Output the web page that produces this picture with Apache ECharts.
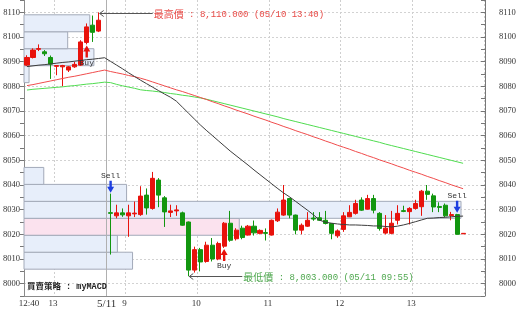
<!DOCTYPE html>
<html><head><meta charset="utf-8">
<script src="https://cdn.jsdelivr.net/npm/echarts/dist/echarts.min.js"></script>
<style>html,body{margin:0;padding:0;background:#fff}#c{width:520px;height:310px}</style>
</head><body><div id="c"></div><script>
// ---- data ----
const times = [
 "05/10 12:40","05/10 12:45","05/10 12:50","05/10 12:55","05/10 13:00","05/10 13:05","05/10 13:10","05/10 13:15","05/10 13:20","05/10 13:25","05/10 13:30","05/10 13:35","05/10 13:40",
 "05/11 08:45","05/11 08:50","05/11 08:55","05/11 09:00","05/11 09:05","05/11 09:10","05/11 09:15","05/11 09:20","05/11 09:25","05/11 09:30","05/11 09:35","05/11 09:40","05/11 09:45","05/11 09:50","05/11 09:55",
 "05/11 10:00","05/11 10:05","05/11 10:10","05/11 10:15","05/11 10:20","05/11 10:25","05/11 10:30","05/11 10:35","05/11 10:40","05/11 10:45","05/11 10:50","05/11 10:55",
 "05/11 11:00","05/11 11:05","05/11 11:10","05/11 11:15","05/11 11:20","05/11 11:25","05/11 11:30","05/11 11:35","05/11 11:40","05/11 11:45","05/11 11:50","05/11 11:55",
 "05/11 12:00","05/11 12:05","05/11 12:10","05/11 12:15","05/11 12:20","05/11 12:25","05/11 12:30","05/11 12:35","05/11 12:40","05/11 12:45","05/11 12:50","05/11 12:55",
 "05/11 13:00","05/11 13:05","05/11 13:10","05/11 13:15","05/11 13:20","05/11 13:25","05/11 13:30","05/11 13:35","05/11 13:40","05/11 13:45"
];
const opens = [8088.6,8091.7,8095.0,8094.0,8091.7,8088.1,8087.9,8086.6,8087.9,8088.6,8097.8,8104.8,8102.4,null,
 8028.8,8027.5,8028.7,8027.5,8028.3,8028.0,8035.9,8030.5,8042.0,8034.8,8028.9,8029.5,8028.7,8025.0,
 8005.5,8013.8,8009.0,8015.6,8010.0,8015.2,8024.5,8018.2,8022.5,8019.7,8023.3,8020.4,
 8020.7,8019.7,8025.5,8027.8,8034.5,8027.8,8021.7,8023.3,8026.6,8026.7,8025.7,8024.4,
 8019.4,8022.0,8027.1,8028.5,8033.9,8030.2,8034.5,8028.5,8020.5,8020.4,8025.7,8029.6,
 8029.2,8030.5,8031.2,8037.5,8035.6,8031.3,8031.8,8027.6,8028.0,8020.2];
const closes = [8091.7,8094.7,8095.3,8093.2,8089.0,8088.4,8088.4,8087.9,8088.9,8098.0,8104.1,8101.9,8106.8,null,
 8028.5,8028.7,8027.9,8028.7,8028.6,8035.5,8030.7,8042.7,8035.9,8029.1,8029.5,8029.9,8023.7,8005.5,
 8013.8,8008.8,8015.6,8010.0,8016.3,8024.5,8017.6,8021.7,8018.7,8023.3,8020.6,8021.6,
 8020.4,8025.7,8029.0,8033.9,8027.8,8021.7,8023.7,8025.7,8026.2,8025.7,8024.4,8020.4,
 8021.4,8027.5,8028.9,8032.5,8029.8,8034.5,8029.8,8022.4,8022.5,8024.5,8028.5,8029.3,
 8030.5,8032.5,8037.5,8036.2,8031.1,8030.9,8027.5,8028.0,8020.0,8020.4];
const lows = [8088.2,8091.3,8094.3,8092.3,8083.0,8084.5,8080.0,8085.8,8087.5,8088.3,8097.0,8098.0,8102.0,null,
 8011.8,8026.5,8027.1,8019.0,8027.0,8027.5,8028.0,8030.0,8031.0,8023.0,8027.0,8027.5,8023.5,8003.0,
 8004.5,8005.0,8008.5,8009.0,8009.5,8014.5,8017.0,8017.5,8018.0,8019.5,8019.5,8020.0,
 8017.5,8019.5,8025.0,8027.5,8026.5,8020.0,8020.0,8023.0,8025.5,8025.5,8024.0,8018.0,
 8018.6,8021.0,8027.0,8028.0,8029.5,8030.0,8028.5,8021.5,8020.0,8020.0,8024.0,8029.0,
 8024.0,8030.0,8027.5,8034.0,8029.0,8029.0,8027.0,8025.7,8020.0,8020.2];
const highs = [8092.6,8095.4,8097.0,8094.7,8092.5,8088.6,8088.7,8088.2,8090.0,8098.7,8105.5,8108.7,8110.0,null,
 8036.5,8032.0,8030.5,8032.0,8033.3,8039.5,8038.6,8045.3,8042.8,8035.5,8032.0,8031.8,8029.2,8025.2,
 8015.0,8014.5,8017.0,8018.5,8017.0,8025.0,8029.5,8022.5,8023.5,8023.8,8025.6,8022.0,
 8022.4,8026.0,8030.5,8040.0,8034.8,8028.0,8024.4,8029.0,8029.0,8029.0,8029.5,8024.6,
 8022.0,8029.0,8031.8,8034.0,8035.0,8036.0,8036.0,8029.0,8027.8,8029.5,8031.8,8031.6,
 8031.0,8034.0,8038.0,8040.0,8036.5,8033.0,8032.5,8029.1,8028.3,8020.4];
const maBlack = [8088.0,8088.3,8088.6,8088.8,8089.1,8089.4,8089.7,8089.9,8090.2,8090.5,8090.8,8091.0,8091.3,8091.6,
 8090.1,8088.6,8087.1,8085.5,8084.0,8082.5,8081.1,8079.7,8078.3,8076.9,8075.6,8074.0,8071.6,8069.2,
 8066.8,8064.4,8062.2,8060.1,8058.0,8055.9,8053.8,8051.9,8050.0,8048.1,8046.1,8044.2,
 8042.3,8040.4,8038.5,8036.7,8035.1,8033.3,8031.5,8029.7,8027.8,8025.7,8024.9,8024.5,
 8024.2,8024.0,8023.8,8023.8,8023.7,8023.6,8023.4,8023.4,8023.2,8023.0,8023.3,8023.8,
 8024.4,8025.1,8025.8,8026.5,8026.6,8026.8,8026.9,8027.1,8027.3,8027.4];
const maRed = [8080.3,8080.7,8081.2,8081.7,8082.2,8082.7,8083.2,8083.7,8084.1,8084.6,8085.1,8085.6,8086.1,8086.6,
 8086.0,8085.5,8085.0,8084.4,8083.9,8083.3,8082.6,8081.8,8081.0,8080.2,8079.4,8078.6,8077.9,8077.1,
 8076.3,8075.5,8074.7,8073.8,8073.0,8072.1,8071.3,8070.4,8069.6,8068.8,8067.9,8067.1,
 8066.3,8065.4,8064.6,8063.7,8062.9,8062.0,8061.2,8060.4,8059.5,8058.7,8057.8,8057.0,
 8056.1,8055.3,8054.5,8053.6,8052.8,8051.9,8051.1,8050.2,8049.4,8048.6,8047.7,8046.9,
 8046.0,8045.2,8044.4,8043.5,8042.7,8041.8,8041.0,8040.1,8039.3,8038.5];
const maGreen = [8078.5,8078.8,8079.0,8079.2,8079.4,8079.6,8079.8,8080.1,8080.3,8080.6,8080.9,8081.1,8081.4,8081.7,
 8081.5,8080.8,8080.2,8079.7,8079.2,8078.6,8078.3,8078.1,8077.8,8077.5,8077.1,8076.8,8076.4,8076.1,
 8075.7,8075.3,8074.8,8074.2,8073.6,8073.0,8072.4,8071.8,8071.2,8070.6,8070.0,8069.4,
 8068.8,8068.2,8067.6,8066.9,8066.3,8065.7,8065.1,8064.5,8063.9,8063.3,8062.7,8062.1,
 8061.5,8060.9,8060.3,8059.7,8059.1,8058.5,8057.9,8057.3,8056.6,8056.0,8055.4,8054.8,
 8054.2,8053.6,8053.0,8052.4,8051.8,8051.2,8050.6,8050.0,8049.4,8048.8];
// volume-at-price profile (16 price bins from profileStart, bin size profileStep)
const profileStart = 7999, profileStep = 6.875;
const profileVolumes = [0,236,203,468,950,223,43,0,0,0,0,0,11,152,95,143];
const buySignals = [10, 33];
const sellSignals = [14, 72];
const strategyName = "myMACD";

// ---- build ----
const SLOTS = 77;
const cats = times.slice();
for (let i = times.length; i < SLOTS; i++) cats.push('pad' + i);

function tickLabel(i) {
  const t = times[i]; if (!t) return '';
  if (i === 0) return t.slice(6);
  const prev = times[i - 1];
  if (prev.slice(0, 5) !== t.slice(0, 5)) return '{d|' + Number(t.slice(0, 2)) + '/' + Number(t.slice(3, 5)) + '}';
  if (t.slice(9) === '00') return String(Number(t.slice(6, 8)));
  return '';
}
function isHour(i) { const t = times[i]; return !!t && i > 0 && times[i-1].slice(0,5) === t.slice(0,5) && t.slice(9) === '00'; }
function isDayStart(i) { const t = times[i]; return !!t && i > 0 && times[i-1].slice(0,5) !== t.slice(0,5); }

const candleData = times.map((_, i) => opens[i] == null ? ['-','-','-','-'] : [opens[i], closes[i], lows[i], highs[i]]);

let iMax = 0, iMin = 0;
highs.forEach((h, i) => { if (h != null && h > highs[iMax]) iMax = i; });
lows.forEach((l, i) => { if (l != null && l < lows[iMin]) iMin = i; });
const fmt = v => v.toLocaleString('en-US', {minimumFractionDigits: 3, maximumFractionDigits: 3});
const lastClose = closes[times.length - 1];
const curBin = Math.floor((lastClose - profileStart) / profileStep);
const profileData = profileVolumes.map((v, k) => [profileStart + k * profileStep, profileStart + (k + 1) * profileStep, v, k === curBin ? 1 : 0]);
const dayStarts = times.map((_, i) => i).filter(isDayStart);

const axisFont = 'Liberation Serif';
const option = {
  animation: false,
  grid: { left: 22, right: 36, top: 0, bottom: 14 },
  xAxis: [
    { type: 'category', data: cats, boundaryGap: true,
      axisLine: { lineStyle: { color: '#8a8a8a' } },
      axisTick: { interval: (i) => (i > 0 && (isHour(i - 1) || isDayStart(i - 1))), length: 3, lineStyle: { color: '#777' } },
      axisLabel: { interval: (i) => tickLabel(i) !== '', formatter: (v, i) => tickLabel(i), margin: 3,
        fontFamily: axisFont, fontSize: 9, color: '#333', padding: [0, 0, 0, 4],
        rich: { d: { fontFamily: axisFont, fontSize: 11, color: '#333' } } },
      splitLine: { show: true, interval: (i) => (i > 0 && isHour(i - 1)), lineStyle: { color: '#cfcfcf', type: [2, 2] } } },
    { type: 'value', min: 0, max: 1000, show: false },
  ],
  yAxis: [
    { type: 'value', min: 7995, max: 8115, interval: 5, position: 'left',
      axisLine: { show: true, lineStyle: { color: '#8a8a8a' } },
      axisTick: { show: true, length: 4, lineStyle: { color: '#777' } },
      axisLabel: { formatter: v => (v % 10 === 0 ? String(v) : ''), margin: 4, fontFamily: axisFont, fontSize: 8.5, color: '#333' },
      splitLine: { show: true, lineStyle: { color: ['rgba(0,0,0,0)', '#d2d2d2'], type: [2, 2] } } },
    { type: 'value', min: 7995, max: 8115, interval: 5, position: 'right', offset: 1,
      axisLine: { show: true, lineStyle: { color: '#777' } },
      axisTick: { show: true, inside: true, length: 4, lineStyle: { color: '#777' } },
      axisLabel: { formatter: v => (v % 10 === 0 ? String(v) : ''), margin: 14, fontFamily: axisFont, fontSize: 8.5, color: '#333' },
      splitLine: { show: false } },
  ],
  series: [
    { type: 'custom', name: 'profile', xAxisIndex: 1, yAxisIndex: 0, z: 1, silent: true,
      data: profileData, encode: { x: 2, y: [0, 1] },
      renderItem: (params, api) => {
        const lo = api.value(0), hi = api.value(1), v = api.value(2);
        if (!v) return null;
        const p1 = api.coord([0, hi]), p2 = api.coord([v, lo]);
        return { type: 'rect', shape: { x: p1[0], y: p1[1], width: p2[0] - p1[0], height: p2[1] - p1[1] },
          style: { fill: api.value(3) ? '#fbe2ee' : '#e7eefa', stroke: '#a3aab9', lineWidth: 1 } };
      } },
    { type: 'custom', name: 'daysep', xAxisIndex: 0, yAxisIndex: 0, z: 2, silent: true,
      data: dayStarts.map(i => [i, 8000]),
      renderItem: (params, api) => {
        const c = api.coord([api.value(0), api.value(1)]);
        const x = Math.floor(c[0] + api.size([1, 0])[0] / 2) - 0.5;
        const cs = params.coordSys;
        return { type: 'line', shape: { x1: x, y1: cs.y, x2: x, y2: cs.y + cs.height }, style: { stroke: '#b0b0b0', lineWidth: 1 } };
      } },
    { type: 'candlestick', name: 'price', xAxisIndex: 0, yAxisIndex: 0, z: 3, barWidth: 4.6,
      data: candleData,
      itemStyle: { color: '#e8120c', color0: '#12960f', borderColor: '#e8120c', borderColor0: '#12960f', borderWidth: 1 } },
    { type: 'line', name: 'maGreen', data: maGreen, showSymbol: false, z: 4, lineStyle: { color: '#4fdc4f', width: 1 } },
    { type: 'line', name: 'maRed', data: maRed, showSymbol: false, z: 4, lineStyle: { color: '#f04c4c', width: 1 } },
    { type: 'line', name: 'maBlack', data: maBlack, showSymbol: false, z: 4, lineStyle: { color: '#3c3c3c', width: 1 } },
    { type: 'custom', name: 'signals', xAxisIndex: 0, yAxisIndex: 0, z: 6, silent: true,
      data: buySignals.map(i => [i, lows[i], 1]).concat(sellSignals.map(i => [i, highs[i], -1])),
      renderItem: (params, api) => {
        const c = api.coord([api.value(0), api.value(1)]);
        const d = api.value(2); // 1 = buy (up arrow below), -1 = sell (down arrow above)
        const x = c[0], y0 = c[1] + d * 1;
        const s = d;
        const pts = [[x, y0], [x - 3.5, y0 + s * 6], [x - 1.2, y0 + s * 6], [x - 1.2, y0 + s * 12], [x + 1.2, y0 + s * 12], [x + 1.2, y0 + s * 6], [x + 3.5, y0 + s * 6]];
        const col = d > 0 ? '#e8120c' : '#1e3fe0';
        return { type: 'group', children: [
          { type: 'polygon', shape: { points: pts }, style: { fill: col } },
          { type: 'text', style: { x: x, y: y0 + s * 17, text: d > 0 ? 'Buy' : 'Sell', align: 'center', verticalAlign: 'middle',
            fontFamily: 'Liberation Mono', fontSize: 8, fill: '#333' } } ] };
      } },
    { type: 'custom', name: 'extremes', xAxisIndex: 0, yAxisIndex: 0, z: 7, silent: true,
      data: [[iMax, highs[iMax], 1], [iMin, lows[iMin], -1]],
      renderItem: (params, api) => {
        const i = api.value(0), v = api.value(1), hi = api.value(2) > 0;
        const c = api.coord([i, v]);
        const x = c[0] + 1, y = Math.round(c[1]) + (hi ? 1.5 : 0.5);
        const col = hi ? '#e84a46' : '#4fa84f';
        const label = hi ? '最高價' : '最低價';
        return { type: 'group', children: [
          { type: 'polyline', shape: { points: [[x, y], [x + 53, y]] }, style: { stroke: '#555', lineWidth: 1, fill: null } },
          { type: 'polyline', shape: { points: [[x + 4, y - 3], [x, y], [x + 4, y + 3]] }, style: { stroke: '#555', lineWidth: 1, fill: null } },
          { type: 'text', style: { x: x + 54, y: y + 1, verticalAlign: 'middle', align: 'left',
            text: '{c|' + label + '}{m| : ' + fmt(v) + ' (' + times[i] + ')}',
            rich: { c: { fontFamily: 'Noto Sans CJK TC', fontSize: 10, fill: col },
                    m: { fontFamily: 'Liberation Mono', fontSize: 9, fill: col } } } } ] };
      } },
  ],
  graphic: [
    { type: 'text', left: 27, top: 283, z: 10, silent: true,
      style: { text: '買賣策略 : ' + strategyName, font: 'bold 8.5px "Liberation Mono", "Noto Sans CJK TC"', fill: '#222' } }
  ]
};
const chart = echarts.init(document.getElementById('c'));
chart.setOption(option);
</script></body></html>
